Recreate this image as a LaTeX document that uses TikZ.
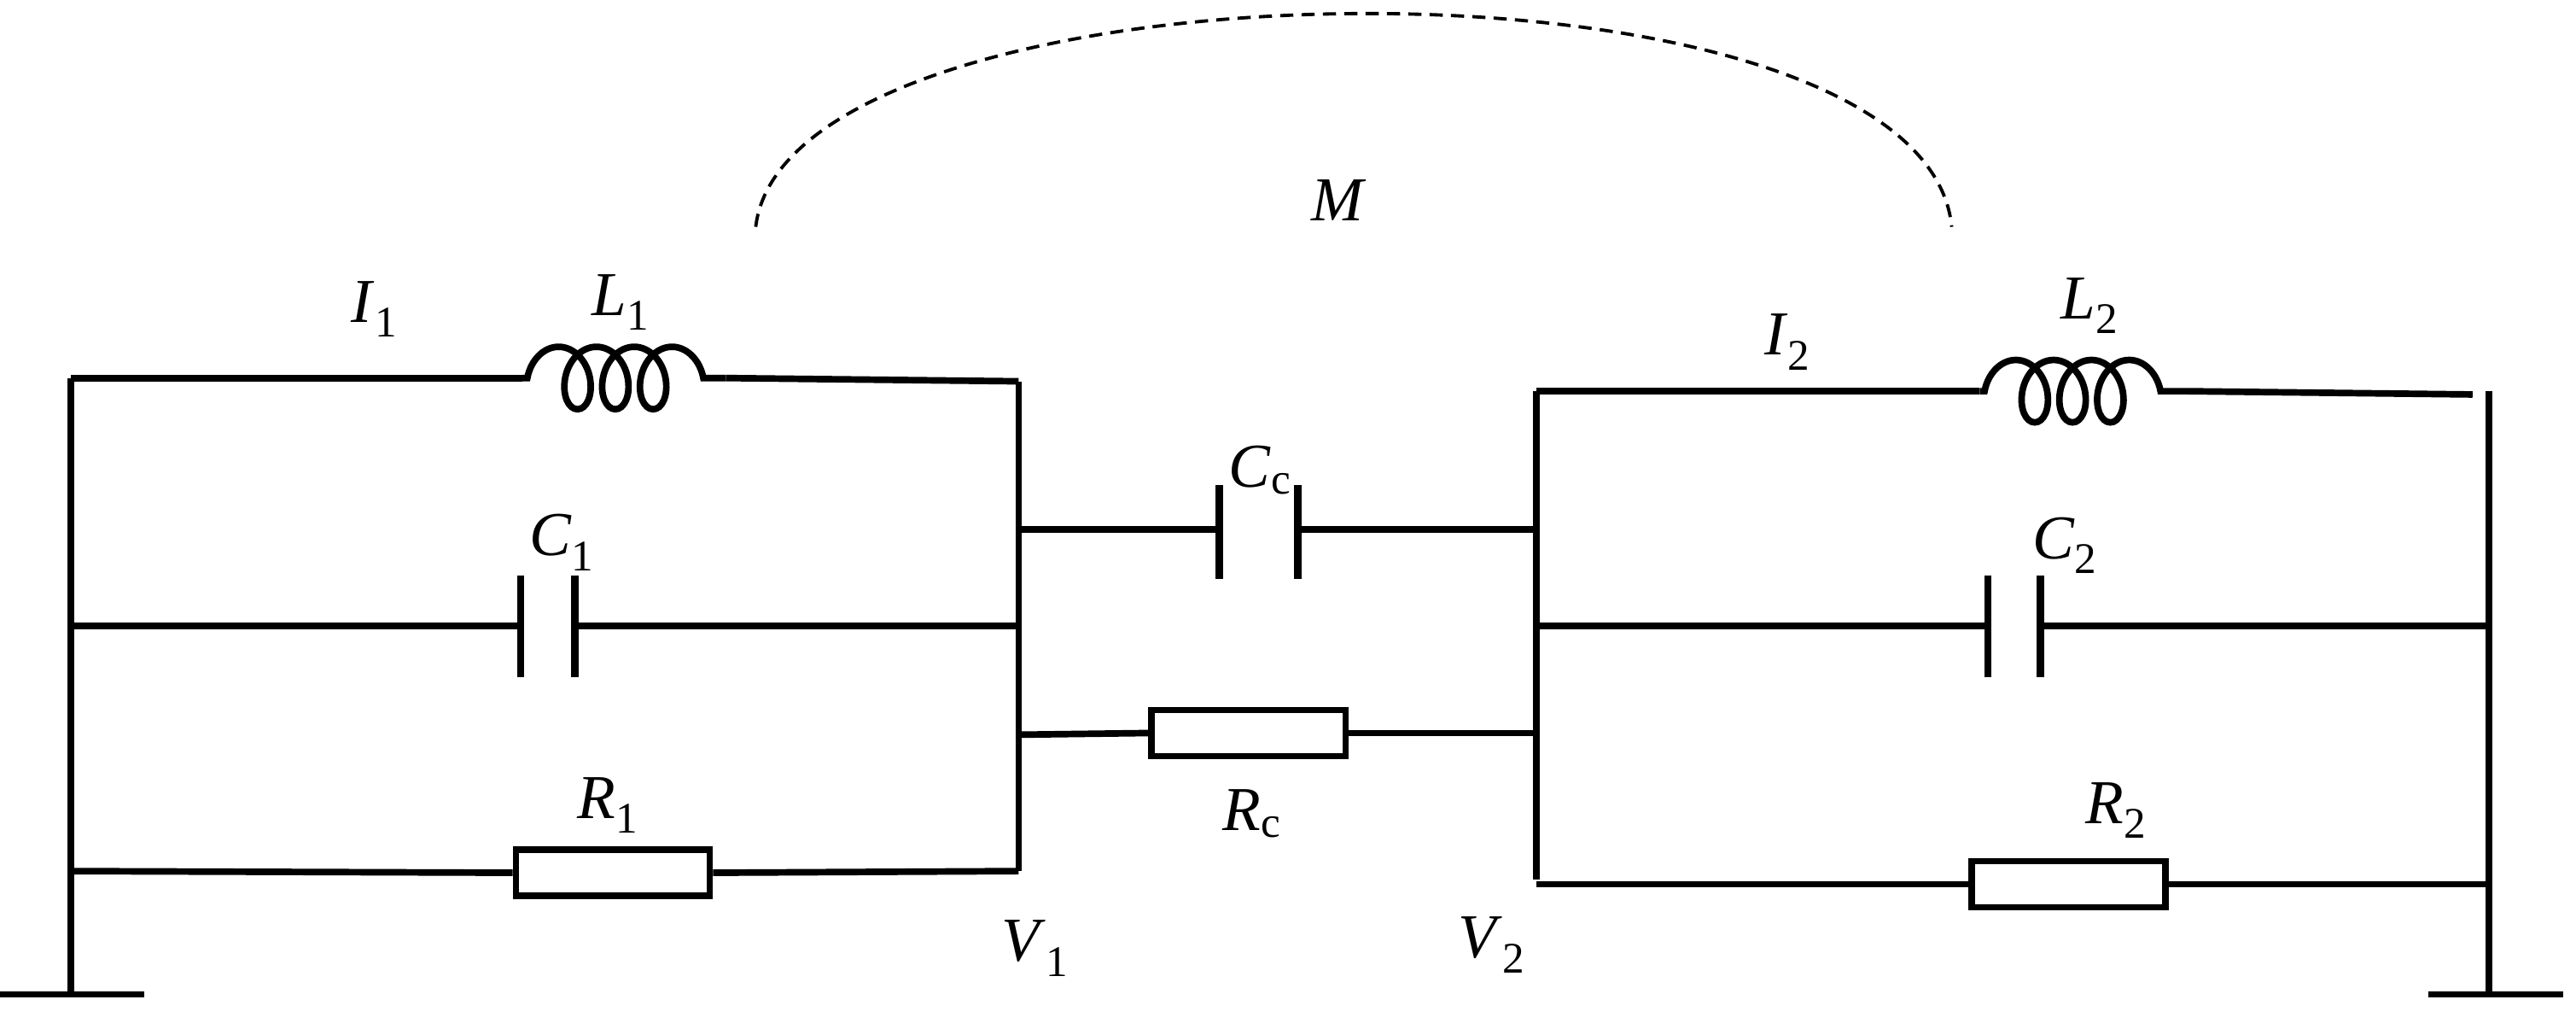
\documentclass[tikz,border=0pt]{standalone}
\usetikzlibrary{decorations.pathmorphing}
\usepackage{fontspec}
\setmainfont{Liberation Serif}
\begin{document}
\begin{tikzpicture}[x=1pt,y=-1pt,
  w/.style={line width=4pt},
  res/.style={draw,line width=4pt,rectangle,minimum width=118pt,minimum height=28pt,inner sep=0pt},
  plate/.style={line width=4.5pt},
  coilst/.style={line width=4pt,decorate,decoration={coil,aspect=0.7,segment length=23pt,amplitude=19pt,pre length=3pt,post length=3pt}},
  lab/.style={font=\fontsize{38}{42}\selectfont}]
\useasboundingbox (0,0) rectangle (1568,622);
% left circuit
\coordinate (ltl) at (43,230); \coordinate (lbl) at (43,605);
\coordinate (lg1) at (0,605); \coordinate (lg2) at (88,605);
\draw[w] (ltl) -- (lbl); \draw[w] (lg1) -- (lg2);
\coordinate (l1a) at (318,230); \coordinate (l1b) at (442,230);
\coordinate (ltr) at (620,232); \coordinate (lbr) at (620,530);
\draw[w] (ltl) -- (l1a); \draw[coilst] (l1a) -- (l1b); \draw[w] (l1b) -- (ltr);
\draw[w] (ltr) -- (lbr);
\coordinate (c1l) at (43,381); \coordinate (c1a) at (317,381); \coordinate (c1b) at (350,381); \coordinate (c1r) at (620,381);
\draw[w] (c1l) -- (c1a); \draw[w] (c1b) -- (c1r);
\draw[plate] (317,350) -- (317,412); \draw[plate] (350,350) -- (350,412);
\node[res] (r1) at (373,531) {};
\coordinate (r1l) at (43,530); \coordinate (r1r) at (620,530);
\draw[w] (r1l) -- (r1.west); \draw[w] (r1.east) -- (r1r);
% middle
\coordinate (ccl) at (620,322); \coordinate (cca) at (742,322); \coordinate (ccb) at (790,322); \coordinate (ccr) at (935,322);
\draw[w] (ccl) -- (cca); \draw[w] (ccb) -- (ccr);
\draw[plate] (742,295) -- (742,352); \draw[plate] (790,295) -- (790,352);
\node[res] (rc) at (760,446) {};
\coordinate (rcl) at (620,447); \coordinate (rcr) at (935,446);
\draw[w] (rcl) -- (rc.west); \draw[w] (rc.east) -- (rcr);
% right circuit
\coordinate (rtl) at (935,238); \coordinate (rbl) at (935,535);
\draw[w] (rtl) -- (rbl);
\coordinate (l2a) at (1205,238); \coordinate (l2b) at (1330,238); \coordinate (rtr) at (1505,240);
\draw[w] (rtl) -- (l2a); \draw[coilst] (l2a) -- (l2b); \draw[w] (l2b) -- (rtr);
\coordinate (rvt) at (1515,238); \coordinate (rvb) at (1515,605);
\draw[w] (rvt) -- (rvb);
\coordinate (rg1) at (1478,605); \coordinate (rg2) at (1560,605);
\draw[w] (rg1) -- (rg2);
\coordinate (c2l) at (935,381); \coordinate (c2a) at (1210,381); \coordinate (c2b) at (1242,381); \coordinate (c2r) at (1515,381);
\draw[w] (c2l) -- (c2a); \draw[w] (c2b) -- (c2r);
\draw[plate] (1210,350) -- (1210,412); \draw[plate] (1242,350) -- (1242,412);
\node[res] (r2) at (1259,538) {};
\coordinate (r2l) at (935,538); \coordinate (r2r) at (1515,538);
\draw[w] (r2l) -- (r2.west); \draw[w] (r2.east) -- (r2r);
% mutual
\coordinate (m1) at (460,138); \coordinate (m2) at (1188,138);
\draw[line width=2pt,dash pattern=on 8pt off 5pt] (m1) .. controls (480,-30) and (1170,-40) .. (m2);
% labels
\node[lab] at (228,188) {\textit{I}\textsubscript{1}};
\node[lab] at (378,184) {\textit{L}\textsubscript{1}};
\node[lab] at (342,330) {\textit{C}\textsubscript{1}};
\node[lab] at (370,490) {\textit{R}\textsubscript{1}};
\node[lab] at (630,577) {\textit{V}\textsubscript{1}};
\node[lab] at (767,286) {\textit{C}\textsubscript{c}};
\node[lab] at (762,495) {\textit{R}\textsubscript{c}};
\node[lab] at (815,122) {\textit{M}};
\node[lab] at (1088,208) {\textit{I}\textsubscript{2}};
\node[lab] at (1272,186) {\textit{L}\textsubscript{2}};
\node[lab] at (1257,332) {\textit{C}\textsubscript{2}};
\node[lab] at (1288,493) {\textit{R}\textsubscript{2}};
\node[lab] at (908,575) {\textit{V}\textsubscript{2}};
\end{tikzpicture}
\end{document}
